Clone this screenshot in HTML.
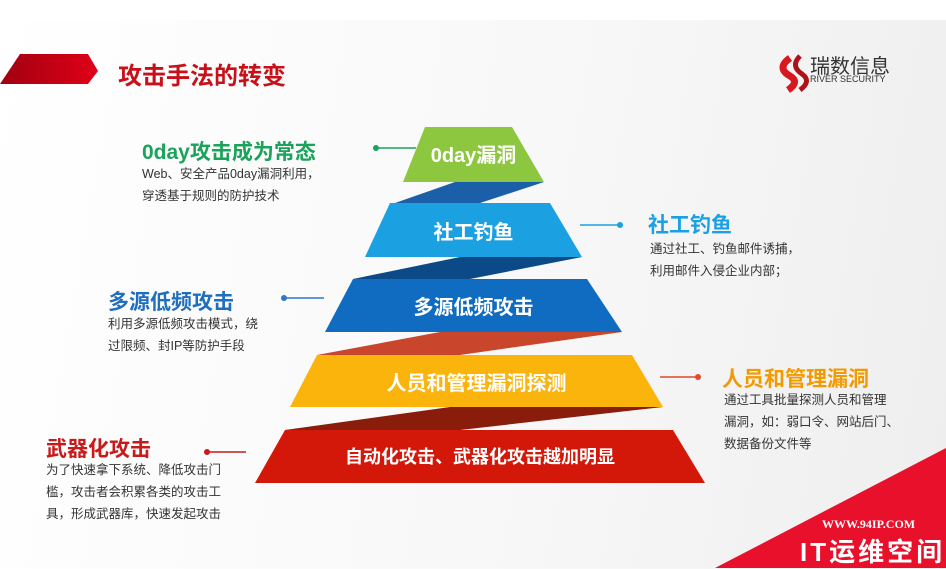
<!DOCTYPE html>
<html><head><meta charset="utf-8"><style>
body{margin:0;width:946px;height:568px;overflow:hidden;position:relative;background:linear-gradient(100deg,#fff 0%,#f7f7f7 60%,#eee 100%);font-family:"Liberation Sans","Noto Sans CJK SC",sans-serif}
.t{position:absolute;white-space:nowrap}
.h{font-weight:bold;font-size:21px}
.d{font-size:12.5px;color:#333;line-height:22px}
</style></head><body>
<svg width="946" height="568" style="position:absolute;left:0;top:0">
<defs><linearGradient id="rg" x1="0" x2="1"><stop offset="0" stop-color="#a00010"/><stop offset="1" stop-color="#e00018"/></linearGradient></defs>
<rect x="0" y="0" width="946" height="20" fill="#fff"/>
<polygon points="20,54 88,54 98,71 88,84 0,84" fill="url(#rg)"/>
<polygon points="455,182 544,182 480,203 395,203" fill="#1b5fa8"/>
<polygon points="460,257 582,257 470,279 353,279" fill="#0b4a86"/>
<polygon points="440,332 622,332 460,355 317,355" fill="#c9452b"/>
<polygon points="450,407 663,407 460,430 285,430" fill="#8a1c0c"/>
<polygon points="425,127 512,127 544,182 403,182" fill="#8dc63f"/>
<polygon points="390,203 550,203 582,257 365,257" fill="#1ba1e2"/>
<polygon points="353,279 587,279 622,332 325,332" fill="#0f6cc0"/>
<polygon points="317,355 632,355 663,407 290,407" fill="#fbb40b"/>
<polygon points="285,430 673,430 705,483 255,483" fill="#d3180a"/>
<line x1="376" y1="148" x2="416" y2="148" stroke="#1aa35a" stroke-width="1.5"/><circle cx="376" cy="148" r="3" fill="#1aa35a"/>
<line x1="580" y1="225" x2="620" y2="225" stroke="#1ba1e2" stroke-width="1.5"/><circle cx="620" cy="225" r="3" fill="#1ba1e2"/>
<line x1="284" y1="298" x2="324" y2="298" stroke="#2a7ac6" stroke-width="1.5"/><circle cx="284" cy="298" r="3" fill="#2a7ac6"/>
<line x1="660" y1="377" x2="698" y2="377" stroke="#e04a2a" stroke-width="1.5"/><circle cx="698" cy="377" r="3" fill="#e04a2a"/>
<line x1="207" y1="452" x2="246" y2="452" stroke="#c81a1a" stroke-width="1.5"/><circle cx="207" cy="452" r="3" fill="#c81a1a"/>
<path d="M790 58 q-14 10 0 18 q10 6 -2 14" stroke="#d8181e" stroke-width="7" fill="none"/>
<path d="M800 56 q-10 10 2 18 q10 7 -2 16" stroke="#b0101a" stroke-width="5" fill="none"/>
<polygon points="715,568 946,448 946,568" fill="#e8102a"/>
</svg>
<div class="t" style="left:118px;top:56px;font-size:24px;font-weight:bold;color:#c8101a">攻击手法的转变</div>
<div class="t" style="left:810px;top:50px;font-size:20px;color:#333">瑞数信息</div>
<div class="t" style="left:810px;top:74px;font-size:9px;color:#333">RIVER SECURITY</div>

<div class="t" style="left:403px;top:139px;width:141px;text-align:center;color:#fff;font-size:20px;font-weight:bold">0day漏洞</div>
<div class="t" style="left:365px;top:216px;width:217px;text-align:center;color:#fff;font-size:20px;font-weight:bold">社工钓鱼</div>
<div class="t" style="left:325px;top:291px;width:297px;text-align:center;color:#fff;font-size:20px;font-weight:bold">多源低频攻击</div>
<div class="t" style="left:290px;top:367px;width:373px;text-align:center;color:#fff;font-size:20px;font-weight:bold">人员和管理漏洞探测</div>
<div class="t" style="left:255px;top:443px;width:450px;text-align:center;color:#fff;font-size:18px;font-weight:bold">自动化攻击、武器化攻击越加明显</div>

<div class="t h" style="left:142px;top:136px;color:#1aa35a">0day攻击成为常态</div>
<div class="t d" style="left:142px;top:163px">Web、安全产品0day漏洞利用，<br>穿透基于规则的防护技术</div>
<div class="t h" style="left:648px;top:209px;color:#1ba1e2">社工钓鱼</div>
<div class="t d" style="left:650px;top:238px">通过社工、钓鱼邮件诱捕，<br>利用邮件入侵企业内部；</div>
<div class="t h" style="left:108px;top:286px;color:#1f6fc0">多源低频攻击</div>
<div class="t d" style="left:108px;top:313px">利用多源低频攻击模式，绕<br>过限频、封IP等防护手段</div>
<div class="t h" style="left:722px;top:363px;color:#f29a00">人员和管理漏洞</div>
<div class="t d" style="left:724px;top:389px">通过工具批量探测人员和管理<br>漏洞，如：弱口令、网站后门、<br>数据备份文件等</div>
<div class="t h" style="left:46px;top:433px;color:#c81a1a">武器化攻击</div>
<div class="t d" style="left:46px;top:459px">为了快速拿下系统、降低攻击门<br>槛，攻击者会积累各类的攻击工<br>具，形成武器库，快速发起攻击</div>

<div class="t" style="left:822px;top:517px;color:#fff;font-size:12px;font-weight:bold;font-family:'Liberation Serif',serif">WWW.94IP.COM</div>
<div class="t" style="left:800px;top:532px;color:#fff;font-size:26px;font-weight:bold;letter-spacing:3px">IT运维空间</div>
</body></html>
